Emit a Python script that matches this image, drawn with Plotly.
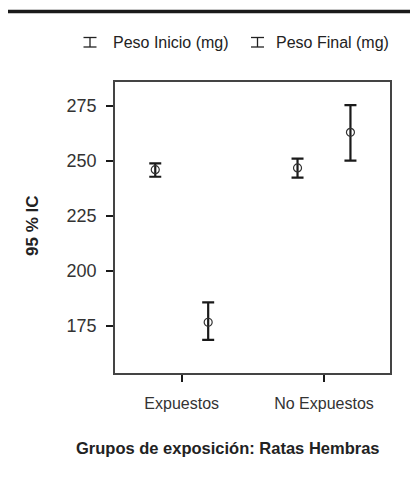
import plotly.graph_objects as go

# ---- data ----
groups = ["Expuestos", "No Expuestos"]
inicio_mean = [245.9, 246.7]
inicio_upper = [248.8, 250.9]
inicio_lower = [242.7, 242.3]
final_mean = [176.5, 262.9]
final_upper = [185.5, 275.3]
final_lower = [168.5, 250.0]
series_names = ["Peso Inicio (mg)", "Peso Final (mg)"]
y_ticks = [175, 200, 225, 250, 275]

# ---- layout geometry (pixels) ----
W, H = 410, 477
L, R, T, B = 115, 20, 82, 104
PW, PH = W - L - R, H - T - B


def pxx(p):
    return (p - L) / PW


def pxy(p):
    return (H - B - p) / PH


dodge = 0.186
xpos = list(range(len(groups)))

fig = go.Figure()
for name, mean, up, lo, off in [
    (series_names[0], inicio_mean, inicio_upper, inicio_lower, -dodge),
    (series_names[1], final_mean, final_upper, final_lower, dodge),
]:
    fig.add_trace(go.Scatter(
        x=[x + off for x in xpos],
        y=mean,
        mode="markers",
        name=name,
        showlegend=False,
        marker=dict(symbol="circle-open", size=8, color="#333333",
                    line=dict(width=1.2, color="#333333")),
        error_y=dict(type="data", symmetric=False,
                     array=[u - m for u, m in zip(up, mean)],
                     arrayminus=[m - l for m, l in zip(mean, lo)],
                     color="#1a1a1a", thickness=2.2, width=6),
    ))

font_family = "Liberation Sans"

fig.update_layout(
    width=W, height=H,
    margin=dict(l=L, r=R, t=T, b=B),
    paper_bgcolor="white", plot_bgcolor="white",
    font=dict(family=font_family, color="#222222", size=16),
    showlegend=False,
    xaxis=dict(
        range=[-0.469, 1.464],
        tickmode="array", tickvals=xpos, ticktext=groups,
        ticks="outside", ticklen=7, tickwidth=2, tickcolor="#1a1a1a",
        showline=True, linecolor="#444444", linewidth=1.5, mirror=True,
        showgrid=False, zeroline=False,
        tickfont=dict(size=16, color="#333333"),
        ticklabelstandoff=8,
    ),
    yaxis=dict(
        range=[153.4, 285.8],
        tickmode="array", tickvals=y_ticks,
        ticks="outside", ticklen=7, tickwidth=2, tickcolor="#1a1a1a",
        showline=True, linecolor="#444444", linewidth=1.5, mirror=True,
        showgrid=False, zeroline=False,
        tickfont=dict(size=18, color="#333333"),
        ticklabelstandoff=6,
    ),
)

annotations = [
    dict(text="<b>Grupos de exposición: Ratas Hembras</b>", xref="paper", yref="paper",
         x=pxx(228), y=pxy(448), showarrow=False, xanchor="center", yanchor="middle",
         font=dict(size=16.5, color="#222222")),
    dict(text="<b>95 % IC</b>", xref="paper", yref="paper", textangle=-90,
         x=pxx(32), y=pxy(226), showarrow=False, xanchor="center", yanchor="middle",
         font=dict(size=17, color="#222222")),
    dict(text=series_names[0], xref="paper", yref="paper",
         x=pxx(111), y=pxy(42), showarrow=False, xanchor="left", yanchor="middle",
         font=dict(size=16, color="#222222")),
    dict(text=series_names[1], xref="paper", yref="paper",
         x=pxx(274), y=pxy(42), showarrow=False, xanchor="left", yanchor="middle",
         font=dict(size=16, color="#222222")),
]
fig.update_layout(annotations=annotations)

shapes = [
    # thick rule at top of figure
    dict(type="line", xref="paper", yref="paper",
         x0=pxx(8), x1=pxx(412), y0=pxy(11.5), y1=pxy(11.5),
         line=dict(color="#1a1a1a", width=3.5)),
]
# legend icons (error-bar glyphs)
for cx in (90, 257.5):
    x0, x1 = pxx(cx - 6.5), pxx(cx + 6.5)
    xm = pxx(cx)
    yt, yb = pxy(37.5), pxy(47)
    for (a, b, c, d) in [(x0, yt, x1, yt), (x0, yb, x1, yb), (xm, yt, xm, yb)]:
        shapes.append(dict(type="line", xref="paper", yref="paper",
                           x0=a, y0=b, x1=c, y1=d,
                           line=dict(color="#222222", width=1.3)))
fig.update_layout(shapes=shapes)

fig.write_html("out.html")
